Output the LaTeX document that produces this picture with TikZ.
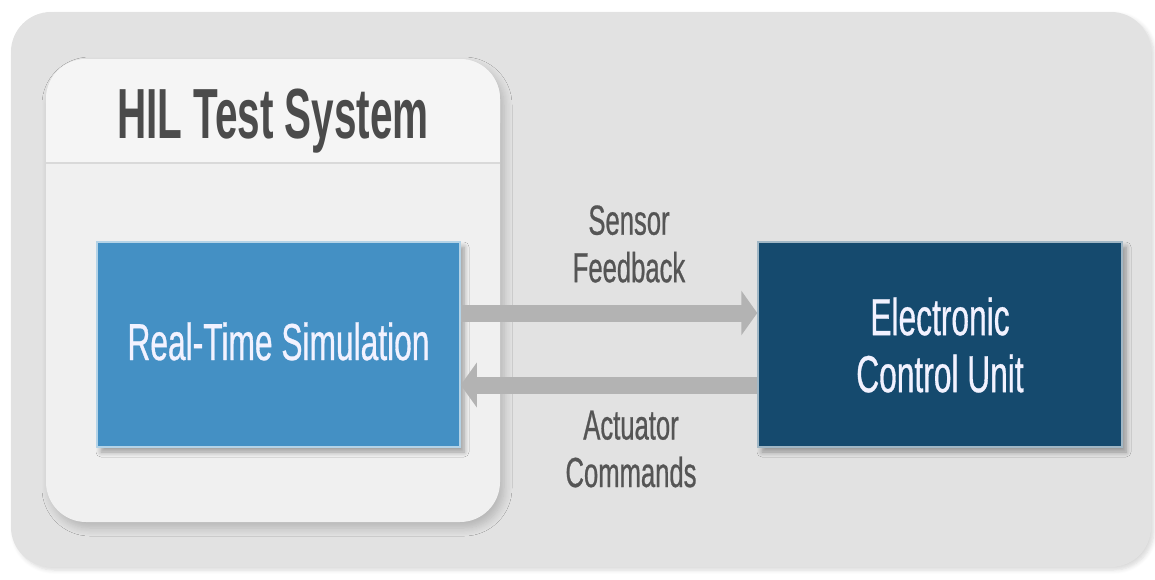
\documentclass[tikz,border=0pt]{standalone}
\usepackage{fontspec}
\setmainfont{Liberation Sans}
\newfontfamily\condfont[FakeStretch=0.61,FakeBold=0.6]{Liberation Sans}
\newfontfamily\titlefont[FakeStretch=0.57]{Liberation Sans}
\usetikzlibrary{arrows.meta,shadows.blur}
\definecolor{outerbg}{HTML}{E2E2E2}
\definecolor{panelbg}{HTML}{F0F0F0}
\definecolor{panelhead}{HTML}{F5F5F5}
\definecolor{sepline}{HTML}{D9D9D9}
\definecolor{rtsblue}{HTML}{4490C4}
\definecolor{ecublue}{HTML}{154A6E}
\definecolor{arrowgray}{HTML}{B3B3B3}
\definecolor{labelgray}{HTML}{555555}
\definecolor{titlegray}{HTML}{4B4B4B}
\begin{document}
\begin{tikzpicture}[x=1pt,y=-1pt,
  box/.style={draw=#1!40!white, line width=1.5pt, fill=#1, inner sep=0pt,
    blur shadow={shadow xshift=4pt, shadow yshift=-5pt, shadow opacity=35, shadow blur steps=6, shadow blur radius=5pt}},
  boxtext/.style={text=white!95!blue, font=\condfont\fontsize{52}{57}\selectfont, align=center, inner sep=0pt},
  labeltext/.style={text=labelgray, font=\condfont\fontsize{42}{47.5}\selectfont, align=center, inner sep=0pt},
  flow/.style={draw=arrowgray, line width=17pt, -{Triangle[length=16pt,width=44pt]}}
]
\useasboundingbox (0,0) rectangle (1155,579);
% outer panel
\fill[outerbg, rounded corners=40pt,
  blur shadow={shadow xshift=3pt, shadow yshift=-3pt, shadow opacity=15, shadow blur steps=6, shadow blur radius=4pt}]
  (11,12) rectangle (1151,567);
% inner panel
\fill[panelbg, rounded corners=40pt,
  blur shadow={shadow xshift=4pt, shadow yshift=-6pt, shadow opacity=20, shadow blur steps=8, shadow blur radius=8pt}]
  (46,59) rectangle (500,522);
\fill[panelhead, rounded corners=40pt] (46,59) -- (500,59) -- (500,163) -- (46,163) -- cycle;
\fill[panelhead] (46,100) rectangle (500,163);
\draw[sepline, line width=1.5pt] (46,163) -- (500,163);
\node[text=titlegray, font=\titlefont\bfseries\fontsize{71}{80}\selectfont, anchor=base, inner sep=0pt] (title) at (273,138) {HIL Test System};
% boxes
\node[box=rtsblue, minimum width=363pt, minimum height=205pt] (rts) at (278.5,344.5) {};
\node[boxtext, anchor=base] (rtstext) at (278.5,360) {Real-Time Simulation};
\node[box=ecublue, minimum width=364pt, minimum height=205pt] (ecu) at (940,344.5) {};
\node[boxtext] (ecutext) at (940,345) {Electronic\\Control Unit};
% connectors
\draw[flow] ([yshift=31.5pt]rts.east) -- ([yshift=31.5pt]ecu.west);
\draw[flow] ([yshift=-40.5pt]ecu.west) -- ([yshift=-40.5pt]rts.east);
% labels
\node[labeltext] (sensor) at (629,244) {Sensor\\Feedback};
\node[labeltext] (actuator) at (631,449) {Actuator\\Commands};
\end{tikzpicture}
\end{document}
